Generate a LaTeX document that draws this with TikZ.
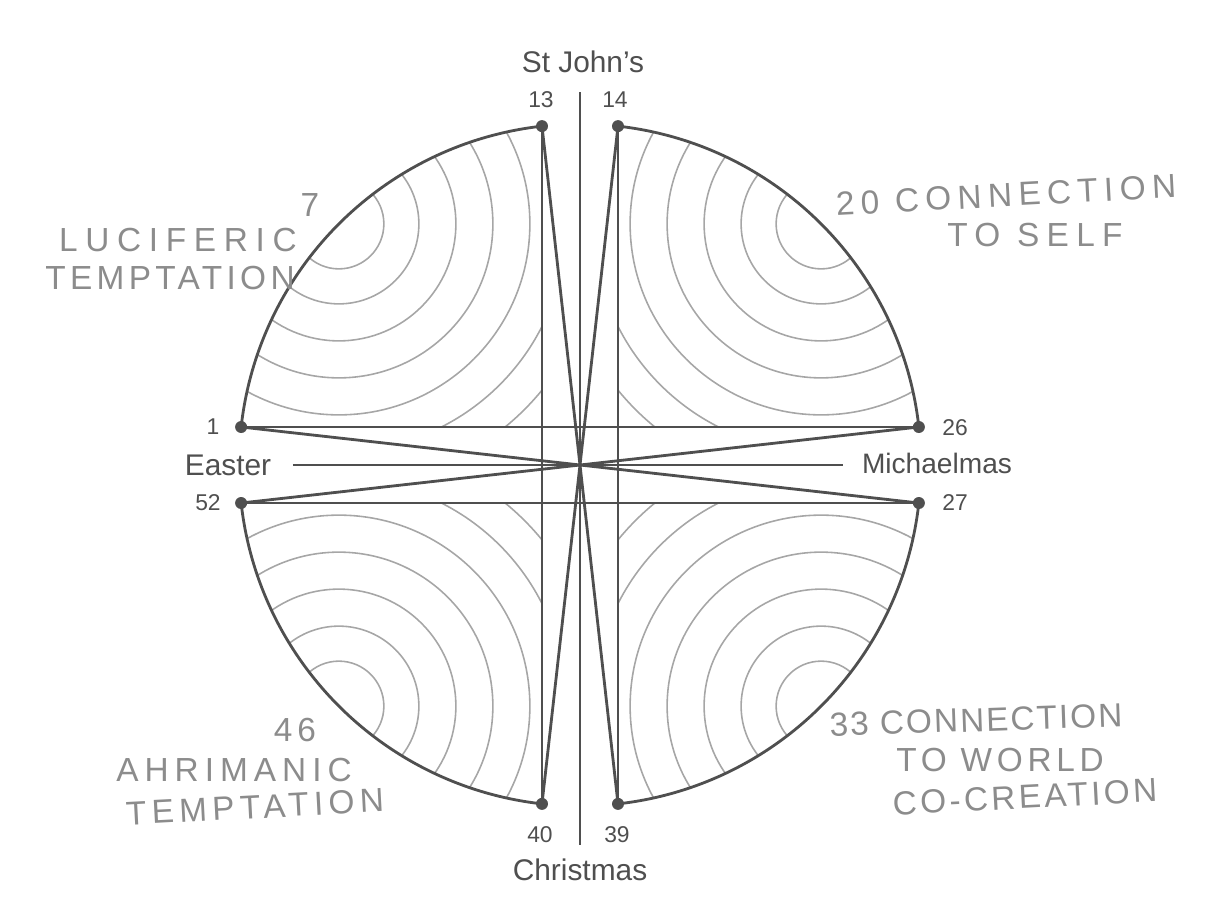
\documentclass[tikz,border=0pt]{standalone}
\usepackage{fontspec}
\setmainfont{Liberation Sans}
\newfontfamily\hand{Liberation Sans}
\usepackage{tikz}
\usetikzlibrary{calc, positioning}
\usepackage{xcolor}
\definecolor{ink}{HTML}{4F4F4F}
\definecolor{pencil}{HTML}{A6A6A6}
\definecolor{lead}{HTML}{8C8C8C}

\begin{document}
\begin{tikzpicture}[
    dot/.style={circle, fill=ink, inner sep=0pt, minimum size=0.24cm},
    num/.style={font=\fontsize{13}{15}\selectfont, text=ink},
    fest/.style={font=\fontsize{17}{20}\selectfont, text=ink},
    note/.style={font=\hand\fontsize{19}{23}\selectfont\addfontfeature{LetterSpace=#1}, text=lead, inner sep=0pt},
    note/.default=15,
    bar/.style={line width=1.6pt, draw=ink},
    ring/.style={line width=0.9pt, draw=pencil}]
  \useasboundingbox (-11.6,9.3) rectangle (12.68,-8.96);

  % week points on the year circle
  \node[dot] (p13) at (96.4:6.82) {};
  \node[dot] (p14) at (83.6:6.82) {};
  \node[dot] (p1)  at (173.6:6.82) {};
  \node[dot] (p26) at (6.4:6.82) {};
  \node[dot] (p52) at (186.4:6.82) {};
  \node[dot] (p27) at (-6.4:6.82) {};
  \node[dot] (p40) at (263.6:6.82) {};
  \node[dot] (p39) at (276.4:6.82) {};

  % pencil rings round weeks 7, 20, 33, 46
  \foreach \t in {0, 90, 180, 270} {
    \begin{scope}[rotate=-\t]
      \clip (96.4:6.82) arc[start angle=96.4, end angle=173.6, radius=6.82] -- (-0.76,0.76) -- cycle;
      \foreach \r in {0.9, 1.6, 2.34, 3.08, 3.82, 4.55, 5.25}
        \draw[ring] (135:6.82) circle[radius=\r];
    \end{scope}
  }

  \draw[bar] (p13.center) arc[start angle=96.4, end angle=173.6, radius=6.82];
  \draw[bar] (p14.center) arc[start angle=83.6, end angle=6.4, radius=6.82];
  \draw[bar] (p27.center) arc[start angle=-6.4, end angle=-83.6, radius=6.82];
  \draw[bar] (p40.center) arc[start angle=263.6, end angle=186.4, radius=6.82];

  \foreach \a/\b in {p13/p40, p14/p39, p1/p26, p52/p27, p13/p39, p14/p40, p1/p27, p52/p26}
    \draw[bar] (\a.center) -- (\b.center);

  \coordinate (n) at (0,7.46);
  \coordinate (s) at (0,-7.6);
  \coordinate (w) at (-5.74,0);
  \coordinate (e) at (5.26,0);
  \draw[bar] (n) -- (s);
  \draw[bar] (w) -- (e);

  \node[fest] (john)  at (0.06,8.06)  {St John’s};
  \node[fest] (xmas)  at (0,-8.1)     {Christmas};
  \node[fest] (east)  at (-7.04,0)    {Easter};
  \node[fest, font=\fontsize{16}{20}\selectfont] (mich) at (7.14,0.04) {Michaelmas};
  \node[num] (n13) at (-0.78,7.3)  {13};
  \node[num] (n14) at (0.7,7.3)    {14};
  \node[num] (n1)  at (-7.34,0.76) {1};
  \node[num] (n52) at (-7.44,-0.76){52};
  \node[num] (n26) at (7.5,0.74)   {26};
  \node[num] (n27) at (7.5,-0.76)  {27};
  \node[num] (n40) at (-0.8,-7.4)  {40};
  \node[num] (n39) at (0.74,-7.4)  {39};

  % handwritten notes
  \node[note] (w7)   at (-5.4,5.2)    {7};
  \node[note=23] (luc1) at (-8.04,4.5)  {LUCIFERIC};
  \node[note=13] (luc2) at (-8.2,3.74)  {TEMPTATION};
  \node[note=19, rotate=3] (self1) at (8.52,5.4) {20 CONNECTION};
  \node[note=22] (self2) at (9.1,4.6)   {TO SELF};
  \node[note] (w46)  at (-5.7,-5.3)     {46};
  \node[note=18] (ahr1) at (-6.92,-6.1) {AHRIMANIC};
  \node[note=16, rotate=3] (ahr2) at (-6.5,-6.84) {TEMPTATION};
  \node[note=6, rotate=2] (wld1) at (7.92,-5.1)  {33 CONNECTION};
  \node[note=14] (wld2) at (8.4,-5.9)   {TO WORLD};
  \node[note=10, rotate=3] (wld3) at (8.9,-6.64) {CO-CREATION};
\end{tikzpicture}
\end{document}
